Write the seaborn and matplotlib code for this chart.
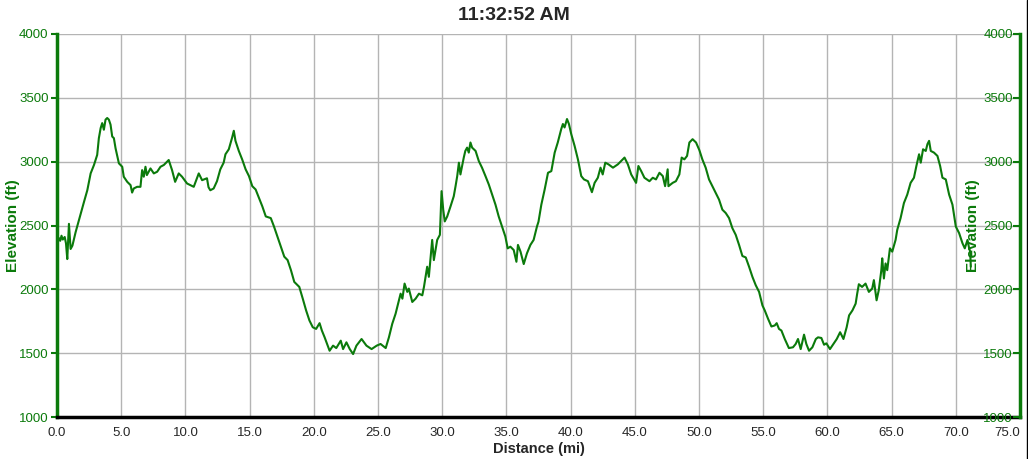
import numpy as np
import pandas as pd
import seaborn as sns
import matplotlib.pyplot as plt
from matplotlib.lines import Line2D

# elevation profile
dist_mi = [0.0, 0.05, 0.15, 0.25, 0.35, 0.45, 0.6, 0.7, 0.8, 0.93, 1.06, 1.2, 1.45, 1.7,
           2.1, 2.36, 2.62, 2.88, 3.13, 3.26, 3.4, 3.52, 3.65, 3.78, 3.91, 4.04, 4.17, 4.3,
           4.43, 4.56, 4.82, 5.08, 5.2, 5.47, 5.73, 5.85, 5.98, 6.24, 6.5, 6.63, 6.76, 6.89,
           7.0, 7.28, 7.54, 7.8, 8.06, 8.32, 8.7, 8.96, 9.2, 9.48, 9.74, 10.13, 10.65, 11.04,
           11.3, 11.68, 11.8, 11.94, 12.2, 12.46, 12.72, 12.98, 13.12, 13.38, 13.64, 13.77,
           13.9, 14.16, 14.42, 14.69, 14.95, 15.21, 15.47, 15.73, 15.99, 16.26, 16.65, 16.9,
           17.17, 17.43, 17.7, 17.96, 18.22, 18.48, 18.87, 19.14, 19.4, 19.66, 19.92, 20.18,
           20.45, 20.63, 20.84, 21.23, 21.5, 21.75, 22.1, 22.28, 22.54, 22.8, 23.06, 23.32,
           23.72, 24.1, 24.5, 24.9, 25.2, 25.6, 25.85, 26.11, 26.37, 26.63, 26.76, 26.9,
           27.07, 27.28, 27.4, 27.67, 27.93, 28.19, 28.45, 28.58, 28.83, 28.96, 29.1, 29.22,
           29.35, 29.48, 29.61, 29.82, 29.95, 30.08, 30.2, 30.39, 30.65, 30.9, 31.04, 31.17,
           31.3, 31.42, 31.55, 31.68, 31.8, 31.94, 32.07, 32.2, 32.33, 32.6, 32.85, 33.1,
           33.37, 33.63, 33.89, 34.15, 34.4, 34.66, 34.92, 35.1, 35.31, 35.57, 35.78, 35.9,
           36.1, 36.35, 36.6, 36.87, 37.12, 37.38, 37.5, 37.72, 37.98, 38.24, 38.5, 38.76,
           39.0, 39.27, 39.4, 39.53, 39.72, 39.87, 40.05, 40.31, 40.57, 40.83, 41.04, 41.35,
           41.66, 41.87, 42.12, 42.33, 42.5, 42.7, 42.95, 43.3, 43.68, 43.94, 44.2, 44.46,
           44.72, 45.1, 45.28, 45.5, 45.75, 46.14, 46.4, 46.65, 46.92, 47.18, 47.36, 47.56,
           47.62, 47.95, 48.2, 48.47, 48.65, 48.86, 49.07, 49.25, 49.5, 49.77, 50.03, 50.26,
           50.52, 50.78, 51.04, 51.3, 51.56, 51.82, 52.08, 52.34, 52.6, 52.86, 53.12, 53.38,
           53.64, 53.9, 54.16, 54.42, 54.68, 54.94, 55.12, 55.38, 55.64, 55.9, 56.05, 56.23,
           56.42, 56.68, 57.0, 57.32, 57.53, 57.71, 57.92, 58.18, 58.36, 58.57, 58.83, 59.1,
           59.27, 59.53, 59.74, 59.92, 60.2, 60.47, 60.73, 60.99, 61.25, 61.5, 61.69, 61.95,
           62.2, 62.32, 62.45, 62.7, 62.97, 63.23, 63.49, 63.62, 63.83, 64.0, 64.2, 64.27,
           64.4, 64.53, 64.66, 64.87, 65.05, 65.31, 65.44, 65.7, 65.96, 66.22, 66.48, 66.74,
           66.93, 67.14, 67.27, 67.45, 67.66, 67.79, 67.92, 68.05, 68.3, 68.57, 68.78, 68.96,
           69.22, 69.48, 69.74, 70.0, 70.26, 70.52, 70.7, 70.91, 71.04, 71.12, 71.17]

elev_ft = [2330, 2410, 2400, 2380, 2420, 2390, 2410, 2360, 2237, 2513, 2316, 2342, 2448, 2540,
           2684, 2776, 2908, 2974, 3053, 3184, 3263, 3302, 3250, 3329, 3342, 3329, 3290, 3197,
           3184, 3105, 2987, 2960, 2882, 2842, 2816, 2758, 2790, 2803, 2803, 2934, 2882, 2960,
           2895, 2947, 2908, 2921, 2960, 2974, 3013, 2934, 2842, 2908, 2882, 2829, 2803, 2908,
           2855, 2870, 2800, 2776, 2790, 2847, 2940, 2992, 3058, 3097, 3189, 3242,
           3163, 3084, 3018, 2940, 2887, 2808, 2782, 2716, 2650, 2571, 2558, 2492,
           2413, 2335, 2256, 2229, 2150, 2058, 2019, 1927, 1835, 1756, 1703, 1690,
           1735, 1677, 1625, 1519, 1559, 1540, 1598, 1532, 1585, 1532, 1493, 1559,
           1611, 1559, 1532, 1559, 1572, 1540, 1624, 1730, 1809, 1914, 1966, 1927,
           2045, 1980, 2006, 1901, 1927, 1966, 1953, 2019, 2177, 2098, 2256, 2387,
           2229, 2308, 2387, 2427, 2769, 2624, 2532, 2571, 2650, 2729, 2808, 2887,
           2992, 2900, 2966, 3032, 3084, 3110, 3071, 3150, 3110, 3084, 3005, 2953,
           2887, 2821, 2742, 2663, 2571, 2492, 2413, 2321, 2334, 2308, 2216, 2348,
           2295, 2198, 2282, 2348, 2387, 2492, 2530, 2663, 2782, 2913, 2926, 3071,
           3150, 3255, 3295, 3268, 3334, 3295, 3216, 3124, 3018, 2887, 2861, 2847,
           2761, 2834, 2874, 2953, 2900, 2992, 2979, 2953, 2979, 3005, 3032, 2979,
           2900, 2834, 2966, 2926, 2874, 2847, 2874, 2861, 2913, 2887, 2808, 2940,
           2808, 2834, 2847, 2900, 3032, 3018, 3045, 3150, 3176, 3150, 3090, 3018,
           2953, 2861, 2808, 2755, 2703, 2624, 2598, 2558, 2479, 2427, 2348, 2261,
           2250, 2177, 2098, 2032, 1980, 1874, 1835, 1769, 1709, 1717, 1735, 1690,
           1677, 1611, 1540, 1546, 1572, 1611, 1532, 1645, 1572, 1519, 1546, 1611,
           1624, 1619, 1566, 1577, 1532, 1572, 1611, 1664, 1611, 1703, 1796, 1835,
           1888, 1966, 2040, 2019, 2045, 1980, 2006, 2072, 1914, 1993, 2150, 2243,
           2085, 2203, 2150, 2321, 2295, 2387, 2466, 2558, 2676, 2742, 2834, 2874,
           2966, 3058, 2992, 3097, 3084, 3137, 3163, 3084, 3071, 3045, 2966, 2874,
           2861, 2742, 2663, 2492, 2440, 2361, 2321, 2387, 2321, 2295, 2177]

x_ticks = [0, 5, 10, 15, 20, 25, 30, 35, 40, 45, 50, 55, 60, 65, 70, 75]
y_ticks = [1000, 1500, 2000, 2500, 3000, 3500, 4000]
title = "11:32:52 AM"

green = "#0b7a0b"
tick_font = ["Liberation Sans Narrow", "Liberation Sans", "DejaVu Sans"]

sns.set_style("white")
plt.rcParams["font.family"] = ["Liberation Sans", "DejaVu Sans"]

profile = pd.DataFrame({"dist": dist_mi, "elev": elev_ft})

fig = plt.figure(figsize=(10.28, 4.59), dpi=100)
ax = fig.add_axes([57 / 1028, 42 / 459, 963 / 1028, 383 / 459])
sns.lineplot(data=profile, x="dist", y="elev", sort=False, estimator=None,
             color=green, linewidth=1.5, ax=ax)

ax.set_xlim(0, 75)
ax.set_ylim(1000, 4000)
ax.set_xticks(x_ticks)
ax.set_xticklabels([f"{v:.1f}" for v in x_ticks], fontfamily=tick_font, fontsize=9.5)
# last label squeezed against the right edge, as in the original
ax.get_xticklabels()[-1].set_ha("right")
ax.set_yticks(y_ticks)
ax.set_yticklabels([str(v) for v in y_ticks], fontfamily=tick_font, fontsize=9.5, color=green)
ax.grid(True, color="#b4b4b4", linewidth=1)
ax.tick_params(axis="x", direction="out", length=4, width=1.5, color="black", pad=3)
ax.tick_params(axis="y", direction="out", length=4, width=1.5, color=green, pad=2)

ax.spines["top"].set_visible(False)
ax.spines["right"].set_visible(False)
ax.spines["left"].set_color(green)
ax.spines["left"].set_linewidth(2.5)
ax.spines["bottom"].set_color("black")
ax.spines["bottom"].set_linewidth(2.5)

ax.set_xlabel("Distance (mi)", fontweight="bold", fontsize=10.5)
ax.xaxis.set_label_coords(0.5, -0.0836)
ax.xaxis.label.set_va("center")
ax.set_ylabel("Elevation (ft)", fontweight="bold", fontsize=11, color=green)
ax.yaxis.set_label_coords(-0.0457, 0.5)
ax.yaxis.label.set_va("center")

# right-hand elevation axis with labels drawn inside the plot
ax2 = ax.twinx()
ax2.set_ylim(1000, 4000)
ax2.set_yticks(y_ticks)
ax2.set_yticklabels([str(v) for v in y_ticks], fontfamily=tick_font, fontsize=9.5, color=green)
for lab in ax2.get_yticklabels():
    lab.set_ha("right")
ax2.tick_params(axis="y", direction="in", length=5, width=1.5, color=green, pad=-5)
for side in ["top", "left", "bottom"]:
    ax2.spines[side].set_visible(False)
ax2.spines["right"].set_color(green)
ax2.spines["right"].set_linewidth(2.5)
ax2.set_ylabel("Elevation (ft)", fontweight="bold", fontsize=11, color=green, rotation=90)
ax2.yaxis.set_label_coords(0.951, 0.5)
ax2.yaxis.label.set_va("center")
ax2.grid(False)

fig.text(0.5, 1 - 16 / 459, title, ha="center", va="center", fontweight="bold", fontsize=14)
fig.add_artist(Line2D([0.9995, 0.9995], [0, 1], transform=fig.transFigure, color="black", linewidth=1))

fig.savefig("out.png", dpi=100)
